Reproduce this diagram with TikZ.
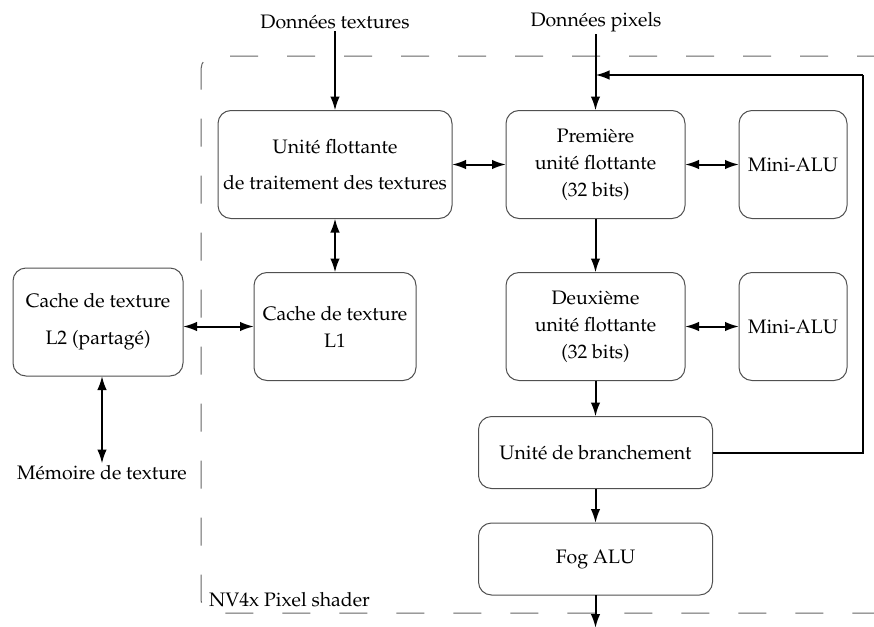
\documentclass[tikz,border=0pt]{standalone}
\usepackage[T1]{fontenc}
\usepackage{mathpazo}
\usetikzlibrary{arrows.meta}

\definecolor{boxline}{RGB}{80,80,80}
\definecolor{frameline}{RGB}{100,100,100}

\tikzset{
  unit/.style={draw=boxline, line width=1pt, rounded corners=13pt,
    align=center, inner sep=0pt, outer sep=0pt,
    font=\fontsize{19.5}{27}\selectfont},
  label/.style={inner sep=2pt, font=\fontsize{19.5}{27}\selectfont},
  tip/.tip={Latex[length=14pt,width=9.5pt]},
  flow/.style={line width=2pt, -tip},
  both/.style={line width=2pt, tip-tip},
  link/.style={line width=2pt},
  frame/.style={draw=frameline, line width=1pt, dash pattern=on 28pt off 29pt, dash phase=5pt}
}

\begin{document}
\begin{tikzpicture}[x=1pt,y=-1pt]
  \useasboundingbox (0,0) rectangle (874,626);

  % dashed outline of the pixel shader
  \draw[frame, rounded corners=13pt] (880,56) -- (201,56) -- (201,613) -- (880,613);
  \node[label, anchor=west] (nv) at (207,600) {NV4x Pixel shader};

  % inputs
  \node[label] (dtex) at (335,22) {Données textures};
  \node[label] (dpix) at (596,22) {Données pixels};

  % texture path
  \node[unit, minimum width=234pt, minimum height=108pt,
        font=\fontsize{19.5}{36}\selectfont] (tex) at (335,164.5)
        {Unité flottante\\de traitement des textures};
  \node[unit, minimum width=162pt, minimum height=108pt] (l1) at (335,326.5)
        {Cache de texture\\L1};
  \node[unit, minimum width=170pt, minimum height=108pt,
        font=\fontsize{19.5}{37}\selectfont] (l2) at (98,322)
        {Cache de texture\\L2 (partagé)};
  \node[label] (mem) at (102,473) {Mémoire de texture};

  % pixel path
  \node[unit, minimum width=179pt, minimum height=108pt] (prem) at (595.5,164.5)
        {Première\\unité flottante\\(32 bits)};
  \node[unit, minimum width=108pt, minimum height=108pt] (mini1) at (793,164.5)
        {Mini-ALU};
  \node[unit, minimum width=179pt, minimum height=108pt] (deux) at (595.5,326.5)
        {Deuxième\\unité flottante\\(32 bits)};
  \node[unit, minimum width=108pt, minimum height=108pt] (mini2) at (793,326.5)
        {Mini-ALU};
  \node[unit, minimum width=234pt, minimum height=72pt] (branch) at (595.5,452.5)
        {Unité de branchement};
  \node[unit, minimum width=234pt, minimum height=72pt] (fog) at (595.5,559)
        {Fog ALU};

  \coordinate (out) at (595.5,628);
  \coordinate (fbtop) at (863,75);

  % connectors
  \draw[flow] (dtex.south) -- (dtex.south |- tex.north);
  \draw[flow] (dpix.south -| prem.north) -- (prem.north);
  \draw[both] (tex.east) -- (prem.west);
  \draw[both] (prem.east) -- (mini1.west);
  \draw[both] (tex.south) -- (l1.north);
  \draw[both] (l2.east |- l1.west) -- (l1.west);
  \draw[both] (l2.south -| mem.north) -- (mem.north);
  \draw[flow] (prem.south) -- (deux.north);
  \draw[both] (deux.east) -- (mini2.west);
  \draw[flow] (deux.south) -- (branch.north);
  \draw[flow] (branch.south) -- (fog.north);
  \draw[flow] (fog.south) -- (out);
  \draw[link] (branch.east) -| (fbtop);
  \draw[flow] (fbtop) -- (fbtop -| prem.north);
\end{tikzpicture}
\end{document}
